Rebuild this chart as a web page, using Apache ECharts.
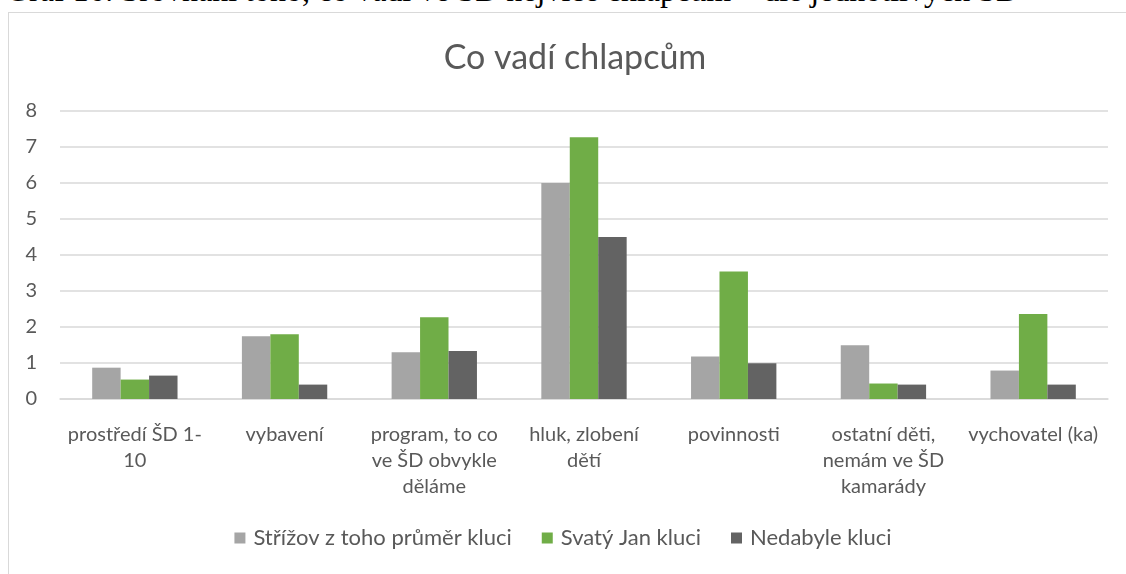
<!DOCTYPE html>
<html>
<head>
<meta charset="utf-8">
<script src="https://cdn.jsdelivr.net/npm/echarts@6/dist/echarts.min.js"></script>
<style>
  html, body { margin: 0; padding: 0; background: #fff; overflow: hidden; }
  #caption {
    position: absolute; left: 6px; top: -28px; white-space: nowrap;
    font-family: "Liberation Serif", serif; font-size: 32px; color: #000;
  }
  #frame {
    position: absolute; left: 8px; top: 12px; width: 1140px; height: 600px;
    border: 1px solid #d9d9d9; background: #fff;
  }
  #chart { position: absolute; left: 0; top: 0; width: 1126px; height: 574px; }
</style>
</head>
<body>
<div id="caption">Graf 16: Srovnání toho, co vadí ve ŠD nejvíce chlapcům – dle jednotlivých ŠD</div>
<div id="frame"></div>
<div id="chart"></div>
<script>
  const kategorie = [
    "prostředí ŠD 1-\n10",
    "vybavení",
    "program, to co\nve ŠD obvykle\nděláme",
    "hluk, zlobení\ndětí",
    "povinnosti",
    "ostatní děti,\nnemám ve ŠD\nkamarády",
    "vychovatel (ka)",
  ];
  const strizov = [0.87, 1.74, 1.3, 6.0, 1.18, 1.49, 0.79];
  const svatyJan = [0.54, 1.8, 2.27, 7.27, 3.54, 0.43, 2.36];
  const nedabyle = [0.65, 0.4, 1.33, 4.5, 0.99, 0.4, 0.4];

  const pismo = "Lato, 'Noto Sans', sans-serif";
  const chart = echarts.init(document.getElementById("chart"));

  const option = {
    animation: false,
    title: {
      text: "Co vadí chlapcům",
      left: 570,
      textAlign: "center",
      top: 36,
      textStyle: { fontFamily: pismo, fontSize: 34, fontWeight: "normal", color: "#595959" },
    },
    legend: {
      bottom: 20,
      left: "center",
      itemWidth: 11,
      itemHeight: 11,
      itemGap: 30,
      icon: "rect",
      textStyle: { fontFamily: pismo, fontSize: 22, color: "#595959", padding: [0, 0, 0, 3] },
    },
    grid: { left: 60, right: 18, top: 111, bottom: 175 },
    xAxis: {
      type: "category",
      data: kategorie,
      axisLine: { lineStyle: { color: "#d9d9d9", width: 1.5 } },
      axisTick: { show: false },
      axisLabel: {
        interval: 0,
        margin: 23,
        lineHeight: 26,
        fontFamily: pismo,
        fontSize: 20,
        color: "#595959",
      },
    },
    yAxis: {
      type: "value",
      min: 0,
      max: 8,
      interval: 1,
      axisLabel: { margin: 23, fontFamily: pismo, fontSize: 20, color: "#595959" },
      splitLine: { lineStyle: { color: "#d9d9d9", width: 1.5 } },
    },
    series: [
      {
        name: "Střížov z toho průměr kluci",
        type: "bar",
        data: strizov,
        barGap: "0%",
        barCategoryGap: "43%",
        itemStyle: { color: "#a5a5a5" },
      },
      {
        name: "Svatý Jan kluci",
        type: "bar",
        data: svatyJan,
        itemStyle: { color: "#70ad47" },
      },
      {
        name: "Nedabyle kluci",
        type: "bar",
        data: nedabyle,
        itemStyle: { color: "#636363" },
      },
    ],
  };

  chart.setOption(option);
</script>
</body>
</html>
